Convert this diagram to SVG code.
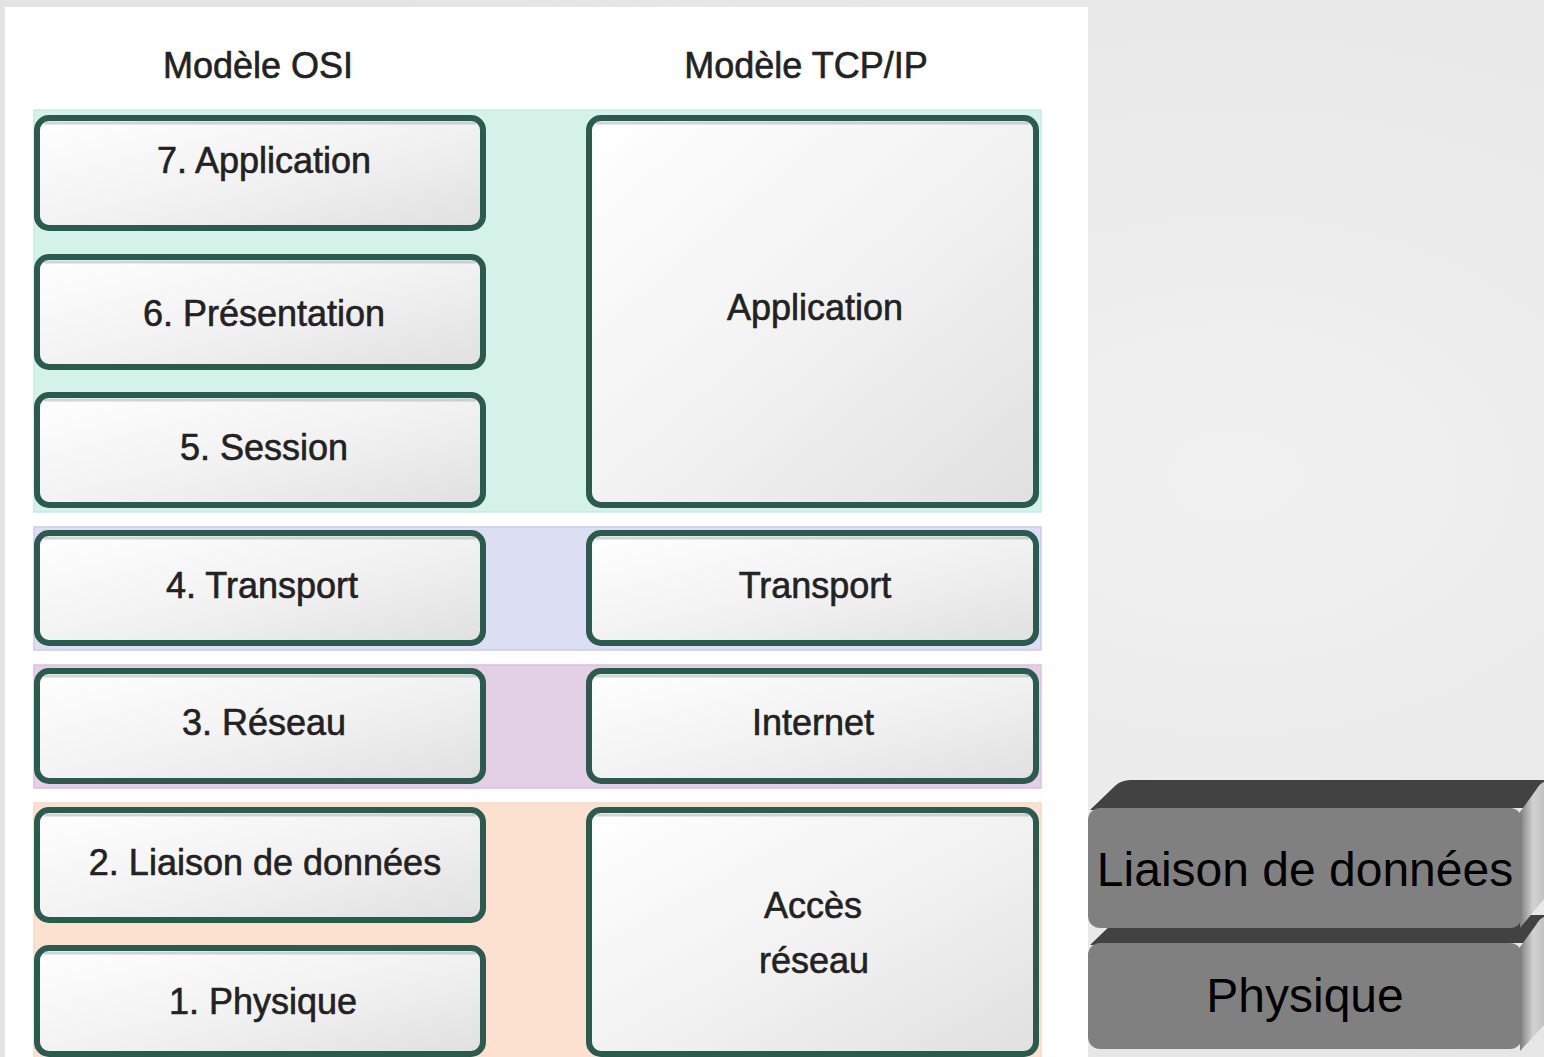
<svg xmlns="http://www.w3.org/2000/svg" width="1544" height="1057" viewBox="0 0 1544 1057">
  <defs>
    <radialGradient id="bg" cx="0.8" cy="0.45" r="0.7">
      <stop offset="0" stop-color="#f1f1f1"/>
      <stop offset="1" stop-color="#e4e4e4"/>
    </radialGradient>
    <linearGradient id="boxg" x1="0" y1="0" x2="1" y2="1">
      <stop offset="0" stop-color="#ffffff"/>
      <stop offset="0.55" stop-color="#f1f1f2"/>
      <stop offset="1" stop-color="#e0e0e1"/>
    </linearGradient>
    <linearGradient id="side" x1="0" y1="0" x2="1" y2="0">
      <stop offset="0" stop-color="#7e7e7e"/>
      <stop offset="0.55" stop-color="#d2d2d2"/>
      <stop offset="1" stop-color="#c2c2c2"/>
    </linearGradient>
    <style>
      .band-g { fill: #d4f2e7; stroke: #c6ecdf; stroke-width: 1.5; }
      .band-b { fill: #dcdef4; stroke: #cccbea; stroke-width: 1.5; }
      .band-p { fill: #e4d0e6; stroke: #dcc0da; stroke-width: 1.5; }
      .band-o { fill: #fde1d0; stroke: #f8d9c7; stroke-width: 1.5; }
      .box { fill: url(#boxg); stroke: #2b5b4f; stroke-width: 6; }
      .inner { fill: none; stroke: #aab4b2; stroke-opacity: 0.55; stroke-width: 3; }
      .t { font-family: "Liberation Sans", Arial, sans-serif; font-size: 36px; fill: #222222; stroke: #222222; stroke-width: 0.6; text-anchor: middle; }
      .front { fill: #808080; }
      .top { fill: #424242; }
      .sidef { fill: url(#side); }
      .bt { font-family: "Liberation Sans", Arial, sans-serif; font-size: 48px; fill: #000000; text-anchor: middle; }
    </style>
  </defs>

  <rect x="0" y="0" width="1544" height="1057" fill="url(#bg)"/>
  <rect x="5" y="7" width="1083" height="1050" fill="#ffffff"/>

  <g id="bands">
    <rect class="band-g" x="34" y="110" width="1007" height="402"/>
    <rect class="band-b" x="34" y="527" width="1007" height="123"/>
    <rect class="band-p" x="34" y="665" width="1007" height="123"/>
    <rect class="band-o" x="34" y="803" width="1007" height="260"/>
  </g>

  <g id="headers">
    <text class="t" x="258" y="78">Modèle OSI</text>
    <text class="t" x="806" y="78">Modèle TCP/IP</text>
  </g>

  <g id="osi7">
    <rect class="box" x="37" y="118" width="446" height="110" rx="12"/>
    <path class="inner" d="M44 123 H476"/>
    <text class="t" x="264" y="173">7. Application</text>
  </g>
  <g id="osi6">
    <rect class="box" x="37" y="257" width="446" height="110" rx="12"/>
    <path class="inner" d="M44 262 H476"/>
    <text class="t" x="264" y="326">6. Présentation</text>
  </g>
  <g id="osi5">
    <rect class="box" x="37" y="395" width="446" height="110" rx="12"/>
    <path class="inner" d="M44 400 H476"/>
    <text class="t" x="264" y="460">5. Session</text>
  </g>
  <g id="osi4">
    <rect class="box" x="37" y="533" width="446" height="110" rx="12"/>
    <path class="inner" d="M44 538 H476"/>
    <text class="t" x="262" y="598">4. Transport</text>
  </g>
  <g id="osi3">
    <rect class="box" x="37" y="671" width="446" height="110" rx="12"/>
    <path class="inner" d="M44 676 H476"/>
    <text class="t" x="264" y="735">3. Réseau</text>
  </g>
  <g id="osi2">
    <rect class="box" x="37" y="810" width="446" height="110" rx="12"/>
    <path class="inner" d="M44 815 H476"/>
    <text class="t" x="265" y="875">2. Liaison de données</text>
  </g>
  <g id="osi1">
    <rect class="box" x="37" y="948" width="446" height="106" rx="12"/>
    <path class="inner" d="M44 953 H476"/>
    <text class="t" x="263" y="1014">1. Physique</text>
  </g>

  <g id="tcp-application">
    <rect class="box" x="589" y="118" width="447" height="387" rx="12"/>
    <path class="inner" d="M596 123 H1029"/>
    <text class="t" x="815" y="320">Application</text>
  </g>
  <g id="tcp-transport">
    <rect class="box" x="589" y="533" width="447" height="110" rx="12"/>
    <path class="inner" d="M596 538 H1029"/>
    <text class="t" x="815" y="598">Transport</text>
  </g>
  <g id="tcp-internet">
    <rect class="box" x="589" y="671" width="447" height="110" rx="12"/>
    <path class="inner" d="M596 676 H1029"/>
    <text class="t" x="813" y="735">Internet</text>
  </g>
  <g id="tcp-acces">
    <rect class="box" x="589" y="810" width="447" height="244" rx="12"/>
    <path class="inner" d="M596 815 H1029"/>
    <text class="t" x="813" y="918">Accès</text>
    <text class="t" x="814" y="973">réseau</text>
  </g>

  <g id="stack-physique">
    <path class="top" d="M1090 945 L1116 920 Q1122 915 1132 915 L1544 915 L1544 943 L1522 943 Z"/>
    <path class="sidef" d="M1520 947 L1536 925 Q1540 918 1544 917 L1544 1025 L1520 1051 Z"/>
    <rect class="front" x="1088" y="943" width="434" height="106" rx="12"/>
    <text class="bt" x="1305" y="1012">Physique</text>
  </g>
  <g id="stack-liaison">
    <path class="top" d="M1090 810 L1116 785 Q1122 780 1132 780 L1544 780 L1544 808 L1522 808 Z"/>
    <path class="sidef" d="M1520 812 L1536 790 Q1540 783 1544 782 L1544 899 L1520 928 Z"/>
    <rect class="front" x="1088" y="808" width="434" height="120" rx="12"/>
    <text class="bt" x="1305" y="886">Liaison de données</text>
  </g>
</svg>
